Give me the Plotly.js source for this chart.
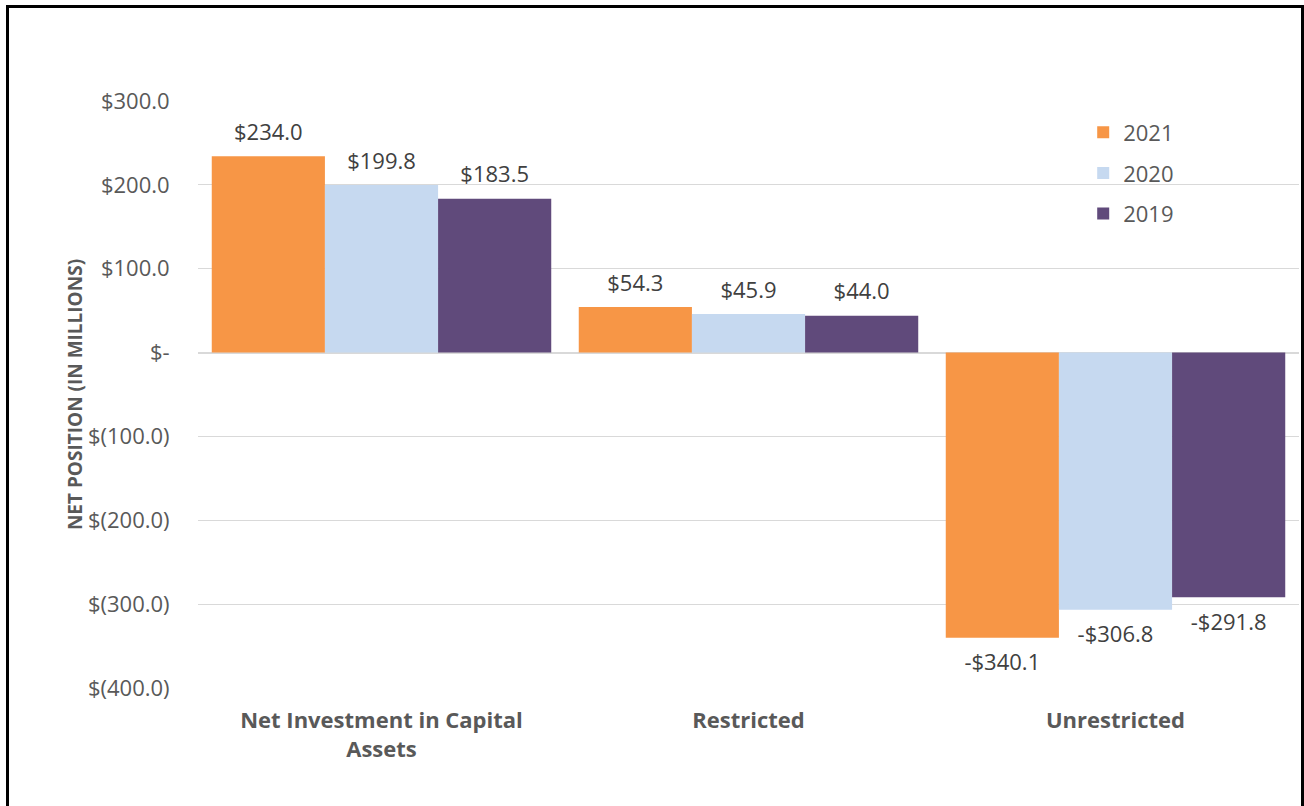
<!DOCTYPE html>
<html>
<head>
<meta charset="utf-8">
<script src="https://cdn.plot.ly/plotly-3.0.1.min.js"></script>
<style>
  html, body { margin: 0; padding: 0; background: #fff; }
  #chart { width: 1304px; height: 806px; position: absolute; left: 0; top: 0; }
  #frame { position: absolute; left: 6px; top: 5px; width: 1292px; height: 820px; border: 3px solid #000; pointer-events: none; }
</style>
</head>
<body>
<div id="chart"></div>
<div id="frame"></div>
<script>
const categories = ["Net Investment in Capital<br>Assets", "Restricted", "Unrestricted"];
const years = ["2021", "2020", "2019"];
const values2021 = [234.0, 54.3, -340.1];
const values2020 = [199.8, 45.9, -306.8];
const values2019 = [183.5, 44.0, -291.8];
const colors = ["#F79646", "#C6D9F0", "#604A7B"];
const tickValues = [300, 200, 100, 0, -100, -200, -300, -400];
const tickLabels = ["$300.0", "$200.0", "$100.0", "$-", "$(100.0)", "$(200.0)", "$(300.0)", "$(400.0)"];

function fmt(v) { return (v < 0 ? "-$" : "$") + Math.abs(v).toFixed(1); }

const FONT = "'Open Sans', sans-serif";
const series = [values2021, values2020, values2019];
const bars = series.map((vals, i) => ({
  type: "bar",
  name: years[i],
  x: categories,
  y: vals,
  marker: { color: colors[i] },
  legendgroup: "g" + i,
  hoverinfo: "none"
}));
const labels = series.map((vals, i) => ({
  type: "scatter",
  mode: "markers+text",
  x: categories,
  y: vals,
  text: vals.map(fmt),
  textposition: vals.map(v => v >= 0 ? "top center" : "bottom center"),
  textfont: { family: FONT, size: 22, color: "#404040" },
  marker: { size: vals.map(v => v >= 0 ? 16 : 24), opacity: 0 },
  cliponaxis: false,
  showlegend: false,
  hoverinfo: "none"
}));

const layout = {
  width: 1304, height: 806,
  margin: { l: 198, r: 5, t: 101, b: 118 },
  paper_bgcolor: "#fff", plot_bgcolor: "#fff",
  barmode: "group",
  bargap: 0.075,
  bargroupgap: 0,
  scattermode: "group",
  scattergap: 0.075,
  font: { family: FONT, color: "#595959" },
  xaxis: {
    tickfont: { family: FONT, size: 22, color: "#595959", weight: "bold" },
    showgrid: false, showline: false, zeroline: false,
    ticks: "outside", ticklen: 13, tickcolor: "rgba(0,0,0,0)"
  },
  yaxis: {
    range: [-400, 300],
    tickvals: tickValues, ticktext: tickLabels,
    tickfont: { family: FONT, size: 22, color: "#595959" },
    gridcolor: "#d9d9d9", gridwidth: 1,
    zeroline: true, zerolinecolor: "#d9d9d9", zerolinewidth: 2,
    showline: false, ticks: "outside", ticklen: 23, tickcolor: "rgba(0,0,0,0)",
    title: { text: "NET POSITION (IN MILLIONS)", font: { family: FONT, size: 19, color: "#595959", weight: "bold" }, standoff: 0 }
  },
  legend: {
    x: 0.804, y: 0.982, xanchor: "left", yanchor: "top",
    font: { family: FONT, size: 22, color: "#595959" },
    tracegroupgap: 9, itemwidth: 30, bgcolor: "rgba(0,0,0,0)"
  },
  showlegend: true
};

Plotly.newPlot("chart", bars.concat(labels), layout, { displayModeBar: false, staticPlot: true });
</script>
</body>
</html>
